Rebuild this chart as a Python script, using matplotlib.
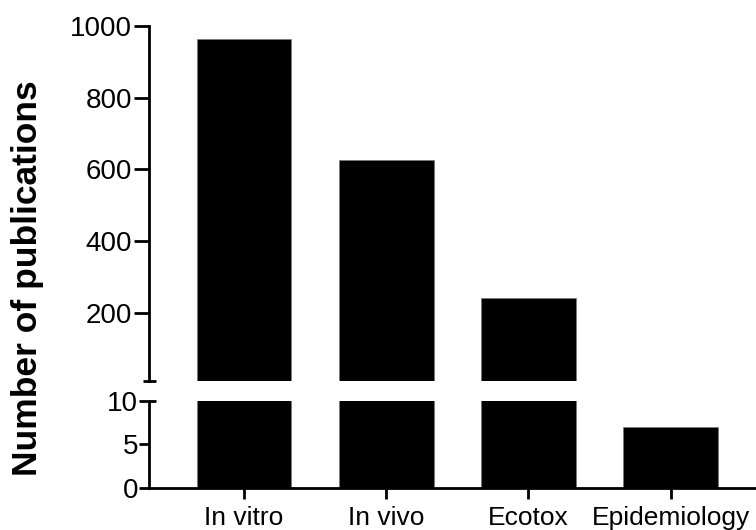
import matplotlib
matplotlib.use("Agg")
import matplotlib.pyplot as plt
import numpy as np

plt.rcParams['font.family'] = ['Liberation Sans', 'DejaVu Sans']

categories = ['In vitro', 'In vivo', 'Ecotox', 'Epidemiology']
publications = [962, 625, 243, 7]

top_ticks = [200, 400, 600, 800, 1000]
bottom_ticks = [0, 5, 10]

W, H = 756, 530
fig = plt.figure(figsize=(W / 100, H / 100), dpi=100)

left = 149 / W
ax_top = fig.add_axes([left, (H - 380.7) / H, 1 - left, (380.7 - 25.7) / H])
ax_bot = fig.add_axes([left, (H - 487.7) / H, 1 - left, (487.7 - 401) / H])

x = np.arange(len(categories))
lw = 2.0

for ax in (ax_top, ax_bot):
    ax.bar(x, publications, width=0.665, color='black', edgecolor='#777777', linewidth=0.4)
    ax.set_xlim(-0.668, 3.6)
    ax.spines['top'].set_visible(False)
    ax.spines['right'].set_visible(False)
    ax.spines['left'].set_linewidth(lw)
    ax.spines['bottom'].set_linewidth(lw)
    ax.tick_params(axis='y', labelsize=20, width=lw, pad=1)

ax_top.set_ylim(12, 1000)
ax_top.set_yticks(top_ticks)
ax_top.tick_params(axis='y', length=11)
ax_top.spines['bottom'].set_visible(False)
ax_top.set_xticks([])

ax_bot.set_ylim(0, 10)
ax_bot.set_yticks(bottom_ticks)
ax_bot.tick_params(axis='y', length=7)
ax_bot.set_xticks(x)
ax_bot.set_xticklabels(categories)
ax_bot.tick_params(axis='x', labelsize=19, width=lw, length=8, pad=5)

# break marks on the y axis
trans_top = ax_top.get_yaxis_transform()
ax_top.plot([-0.01, 0.012], [12, 12], color='black', lw=lw, transform=trans_top, clip_on=False,
            solid_capstyle='butt')
trans_bot = ax_bot.get_yaxis_transform()
ax_bot.plot([0, 0.012], [10, 10], color='black', lw=lw, transform=trans_bot, clip_on=False,
            solid_capstyle='butt')

fig.text(28 / W, 1 - 278 / H, 'Number of publications', rotation=90, ha='center', va='center',
         fontsize=25.5, fontweight='bold')

fig.savefig('out.png', dpi=100)
